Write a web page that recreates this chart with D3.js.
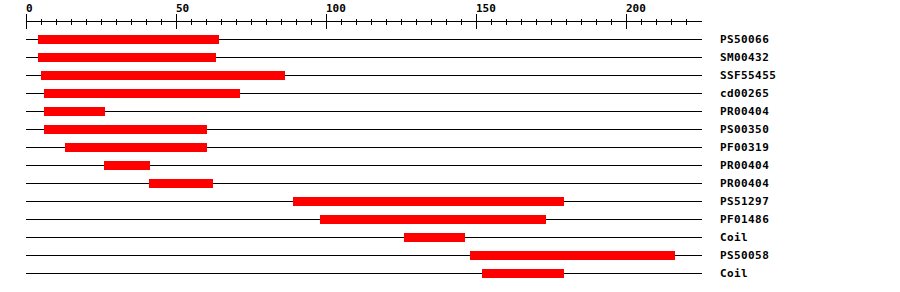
<!DOCTYPE html>
<html>
<head>
<meta charset="utf-8">
<script src="https://cdn.jsdelivr.net/npm/d3@7"></script>
<style>
  body { margin: 0; background: #fff; }
  text { font-family: "DejaVu Sans Mono", monospace; font-weight: bold; font-size: 11px; }
</style>
</head>
<body>
<div id="chart"></div>
<script>
const labels = ["PS50066", "SM00432", "SSF55455", "cd00265", "PR00404", "PS00350", "PF00319",
  "PR00404", "PR00404", "PS51297", "PF01486", "Coil", "PS50058", "Coil"];
const starts = [4, 4, 5, 6, 6, 6, 13, 26, 41, 89, 98, 126, 148, 152];
const ends = [64, 63, 86, 71, 26, 60, 60, 41, 62, 179, 173, 146, 216, 179];
const tickLabels = [0, 50, 100, 150, 200];
const minorTicks = d3.range(0, 221, 5);
const seqLength = 225;

const width = 900, height = 292;

const svg = d3.select("#chart")
  .append("svg")
  .attr("width", width)
  .attr("height", height)
  .attr("shape-rendering", "crispEdges");

const xScale = d3.scaleLinear().domain([0, seqLength]).range([26, 701]);
const yScale = d3.scaleBand().domain(d3.range(labels.length)).range([30, 30 + 18 * labels.length]);

// axis
const axis = svg.append("g");
axis.append("line")
  .attr("x1", xScale(0)).attr("x2", xScale(seqLength) + 1)
  .attr("y1", 21.5).attr("y2", 21.5)
  .attr("stroke", "#000");

axis.selectAll(".minor")
  .data(minorTicks)
  .enter().append("line")
  .attr("x1", d => xScale(d) + 0.5).attr("x2", d => xScale(d) + 0.5)
  .attr("y1", d => tickLabels.includes(d) ? 14 : 19)
  .attr("y2", d => tickLabels.includes(d) ? 29 : 25)
  .attr("stroke", "#000");

axis.selectAll(".lbl")
  .data(tickLabels)
  .enter().append("text")
  .attr("x", d => xScale(d))
  .attr("y", 12)
  .text(d => d);

// rows
const rows = svg.selectAll(".row")
  .data(labels)
  .enter().append("g")
  .attr("transform", (d, i) => `translate(0,${yScale(i)})`);

rows.append("line")
  .attr("x1", xScale(0)).attr("x2", xScale(seqLength) + 1)
  .attr("y1", 9.5).attr("y2", 9.5)
  .attr("stroke", "#000");

rows.append("rect")
  .attr("x", (d, i) => xScale(starts[i]))
  .attr("width", (d, i) => xScale(ends[i]) - xScale(starts[i]) + 1)
  .attr("y", 5)
  .attr("height", 9)
  .attr("fill", "#ff0000");

rows.append("text")
  .attr("x", 720)
  .attr("y", 13)
  .style("letter-spacing", "0.4px")
  .text(d => d);
</script>
</body>
</html>
